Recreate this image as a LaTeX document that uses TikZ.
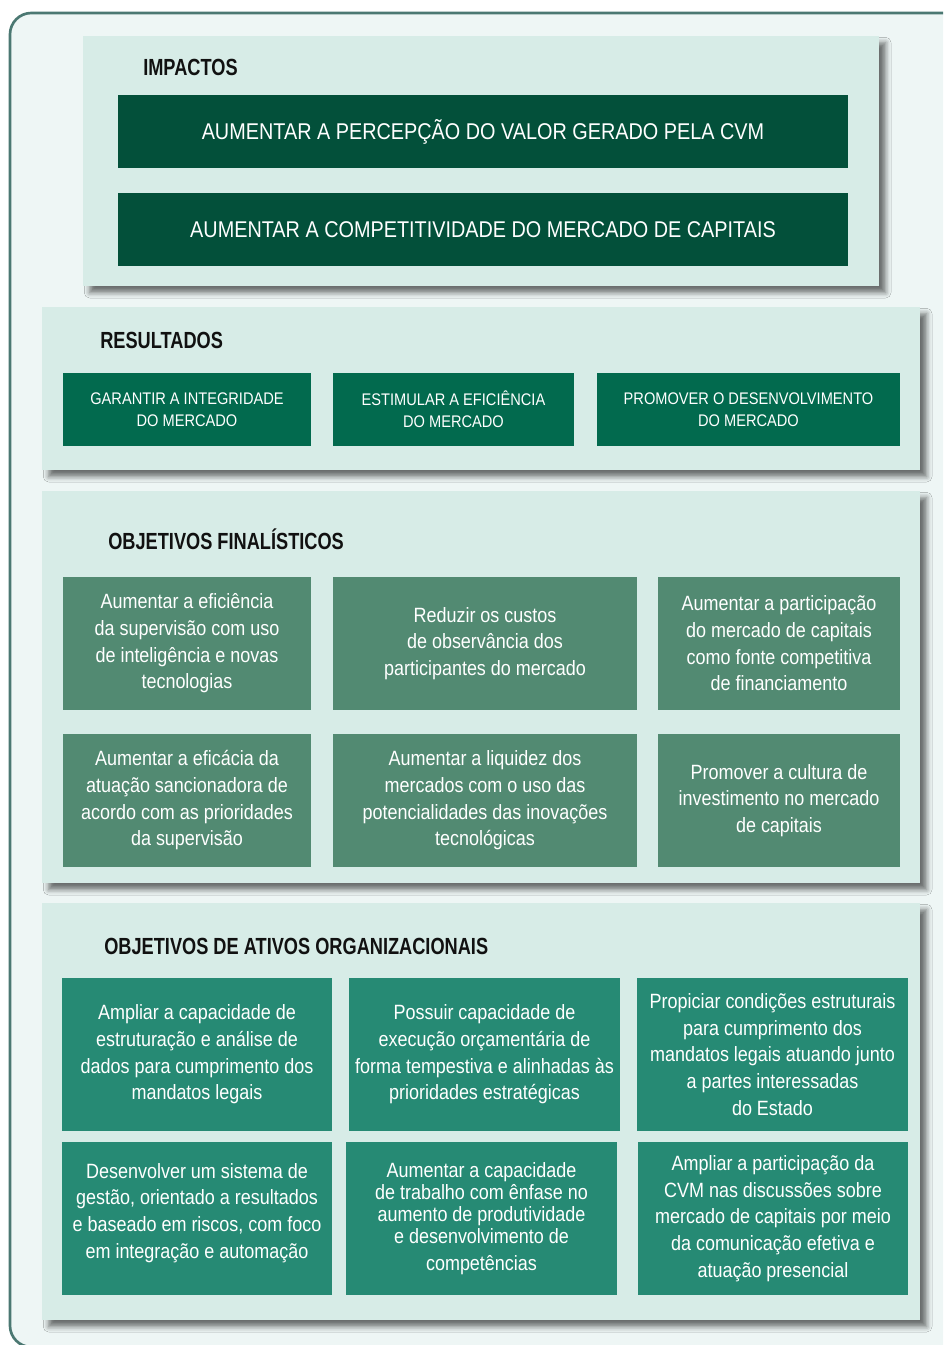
\documentclass[tikz,border=0pt]{standalone}
\usepackage{fontspec}
\setmainfont{Liberation Sans}[FakeStretch=0.87, BoldFeatures={FakeStretch=0.78}]
\usetikzlibrary{shadows.blur}
\definecolor{outerfill}{HTML}{EEF6F5}
\definecolor{bordc}{HTML}{4B7872}
\definecolor{panelc}{HTML}{D7ECE7}
\definecolor{impc}{HTML}{03503A}
\definecolor{resc}{HTML}{026A4E}
\definecolor{finc}{HTML}{528A72}
\definecolor{ativc}{HTML}{268A74}
\definecolor{labc}{HTML}{111111}
\begin{document}
\begin{tikzpicture}[x=0.75pt,y=-0.75pt,
  panel/.style={fill=panelc, draw=none, inner sep=0pt,
    blur shadow={shadow xshift=5pt, shadow yshift=-5pt, shadow blur radius=4pt, shadow opacity=55}},
  sect/.style={anchor=west, inner sep=0pt, text=labc, font=\fontsize{17.5}{20}\selectfont\bfseries},
  impbox/.style={fill=impc, text=white, inner sep=0pt, minimum width=547.5pt, minimum height=54.75pt,
    font=\fontsize{17.1}{20}\selectfont},
  resbox/.style={fill=resc, text=white, inner sep=0pt, minimum height=54.75pt, align=center,
    font=\fontsize{12.6}{16.5}\selectfont},
  finbox/.style={fill=finc, text=white, inner sep=0pt, minimum height=99.75pt, align=center,
    font=\fontsize{15.5}{20}\selectfont},
  ativbox/.style={fill=ativc, text=white, inner sep=0pt, minimum width=202.5pt, minimum height=114.75pt, align=center,
    font=\fontsize{15.5}{20}\selectfont}
]
\useasboundingbox (0,0) rectangle (943,1345);
\clip (0,0) rectangle (943,1345);
\draw[line width=2pt, draw=bordc, fill=outerfill, rounded corners=16pt] (10,13) rectangle (985,1347);

% IMPACTOS
\node[panel, minimum width=597pt, minimum height=187.5pt] (pimp) at (481,161) {};
\node[sect] (limp) at (143,67) {IMPACTOS};
\node[impbox] (i1) at (483,131.5) {AUMENTAR A PERCEPÇÃO DO VALOR GERADO PELA CVM};
\node[impbox] (i2) at (483,229.5) {AUMENTAR A COMPETITIVIDADE DO MERCADO DE CAPITAIS};

% RESULTADOS
\node[panel, minimum width=658.5pt, minimum height=122.25pt] (pres) at (481,388.5) {};
\node[sect] (lres) at (100,340) {RESULTADOS};
\node[resbox, minimum width=186pt] (r1) at (187,409.5) {GARANTIR A INTEGRIDADE\\DO MERCADO};
\node[resbox, minimum width=180.75pt] (r2) at (453.5,409.5) {ESTIMULAR A EFICIÊNCIA\\DO MERCADO};
\node[resbox, minimum width=227.25pt] (r3) at (748.5,409.5) {PROMOVER O DESENVOLVIMENTO\\DO MERCADO};

% OBJETIVOS FINALISTICOS
\node[panel, minimum width=658.5pt, minimum height=294pt] (pfin) at (481,687) {};
\node[sect] (lfin) at (108,539) {OBJETIVOS FINALÍSTICOS};
\node[finbox, minimum width=186pt] (f1) at (187,643.5) {Aumentar a eficiência\\da supervisão com uso\\de inteligência e novas\\tecnologias};
\node[finbox, minimum width=228pt] (f2) at (485,643.5) {Reduzir os custos\\de observância dos\\participantes do mercado};
\node[finbox, minimum width=181.5pt] (f3) at (779,643.5) {Aumentar a participação\\do mercado de capitais\\como fonte competitiva\\de financiamento};
\node[finbox, minimum width=186pt] (f4) at (187,800.5) {Aumentar a eficácia da\\atuação sancionadora de\\acordo com as prioridades\\da supervisão};
\node[finbox, minimum width=228pt] (f5) at (485,800.5) {Aumentar a liquidez dos\\mercados com o uso das\\potencialidades das inovações\\tecnológicas};
\node[finbox, minimum width=181.5pt] (f6) at (779,800.5) {Promover a cultura de\\investimento no mercado\\de capitais};

% OBJETIVOS DE ATIVOS ORGANIZACIONAIS
\node[panel, minimum width=658.5pt, minimum height=312.75pt] (pativ) at (481,1111.5) {};
\node[sect] (lativ) at (104,946) {OBJETIVOS DE ATIVOS ORGANIZACIONAIS};
\node[ativbox] (a1) at (197,1054.5) {Ampliar a capacidade de\\estruturação e análise de\\dados para cumprimento dos\\mandatos legais};
\node[ativbox, minimum width=203.25pt] (a2) at (484.5,1054.5) {Possuir capacidade de\\execução orçamentária de\\forma tempestiva e alinhadas às\\prioridades estratégicas};
\node[ativbox, minimum width=203.25pt] (a3) at (772.5,1054.5) {Propiciar condições estruturais\\para cumprimento dos\\mandatos legais atuando junto\\a partes interessadas\\do Estado};
\node[ativbox] (a4) at (197,1218.5) {Desenvolver um sistema de\\gestão, orientado a resultados\\e baseado em riscos, com foco\\em integração e automação\\[-8pt]\mbox{}};
\node[ativbox, minimum width=203.25pt, font=\fontsize{15.5}{16.5}\selectfont] (a5) at (481.5,1218.5) {Aumentar a capacidade\\de trabalho com ênfase no\\aumento de produtividade\\e desenvolvimento de\\[4pt]competências};
\node[ativbox, minimum width=202.5pt] (a6) at (773,1218.5) {Ampliar a participação da\\CVM nas discussões sobre\\mercado de capitais por meio\\da comunicação efetiva e\\atuação presencial};
\end{tikzpicture}
\end{document}
